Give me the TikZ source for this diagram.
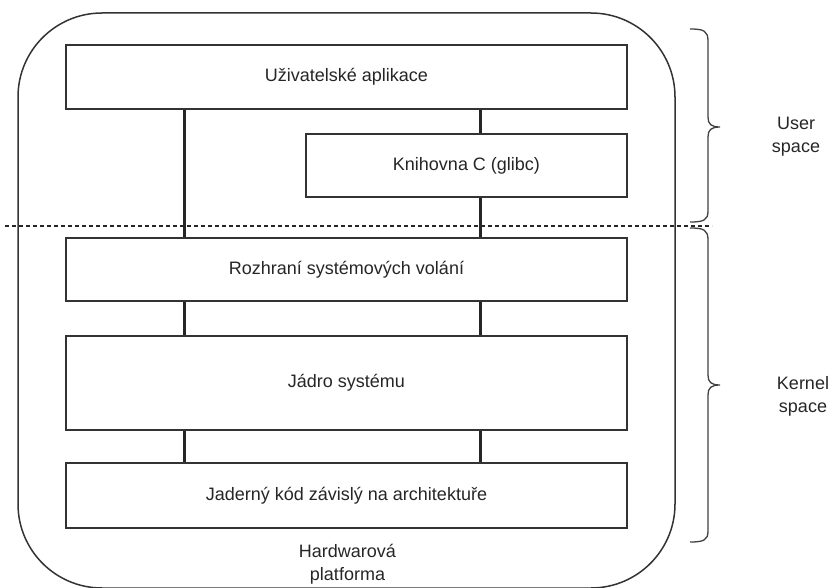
\documentclass[tikz,border=0pt]{standalone}
\usepackage{fontspec}
\setmainfont{Liberation Sans}
\begin{document}
\begin{tikzpicture}[x=1pt,y=-1pt,
  ink/.style={draw=black!80, line width=1.5pt},
  layer/.style={ink, fill=white, rectangle, inner sep=0pt, align=center,
    text=black!85, font=\fontsize{18}{22.5}\selectfont},
  link/.style={draw=black!85, line width=3pt},
  brace/.style={draw=black!75, line width=1.3pt},
  label/.style={align=center, text=black!85, inner sep=0pt,
    font=\fontsize{18}{23}\selectfont}]
\useasboundingbox (0,0) rectangle (836,588);

% outer platform frame
\draw[ink, rounded corners=84pt] (18,13) rectangle (675,588);

% column positions of the connectors
\coordinate (cl) at (184,0);
\coordinate (cr) at (480,0);

% layers
\node[layer, minimum width=561pt, minimum height=64pt] (app)  at (346.5,77)   {Uživatelské aplikace};
\node[layer, minimum width=321pt, minimum height=63pt] (libc) at (466.5,165.5) {Knihovna C (glibc)};
\node[layer, minimum width=561pt, minimum height=63pt] (sci)  at (346.5,269.5) {Rozhraní systémových volání};
\node[layer, minimum width=561pt, minimum height=94pt] (kern) at (346.5,383)   {Jádro systému};
\node[layer, minimum width=561pt, minimum height=65pt] (arch) at (346.5,495.5) {Jaderný kód závislý na architektuře};

% connectors between layers
\draw[link] (app.south -| cl) -- (sci.north -| cl);
\draw[link] (app.south -| cr) -- (libc.north -| cr);
\draw[link] (libc.south -| cr) -- (sci.north -| cr);
\draw[link] (sci.south -| cl) -- (kern.north -| cl);
\draw[link] (sci.south -| cr) -- (kern.north -| cr);
\draw[link] (kern.south -| cl) -- (arch.north -| cl);
\draw[link] (kern.south -| cr) -- (arch.north -| cr);

% user / kernel boundary
\coordinate (bl) at (5,226);
\coordinate (br) at (712,226);
\draw[draw=black!85, line width=1.2pt, dash pattern=on 4pt off 3pt] (bl) -- (br);

% braces
\draw[brace] (690,29) .. controls (704,29) and (708,31) .. (708,41)
  -- (708,117) .. controls (708,124) and (711,127) .. (720,127)
  .. controls (711,127) and (708,130) .. (708,137)
  -- (708,211) .. controls (708,220) and (704,222) .. (690,222);
\draw[brace] (690,228) .. controls (704,228) and (708,230) .. (708,240)
  -- (708,375) .. controls (708,382) and (711,385) .. (720,385)
  .. controls (711,385) and (708,388) .. (708,395)
  -- (708,531) .. controls (708,540) and (704,542) .. (690,542);

% side and bottom labels
\node[label] (user)   at (796,136.5) {User\\space};
\node[label] (kernel) at (803,396.5) {Kernel\\space};
\node[label] (hw)     at (347.5,564) {Hardwarová\\platforma};
\end{tikzpicture}
\end{document}
